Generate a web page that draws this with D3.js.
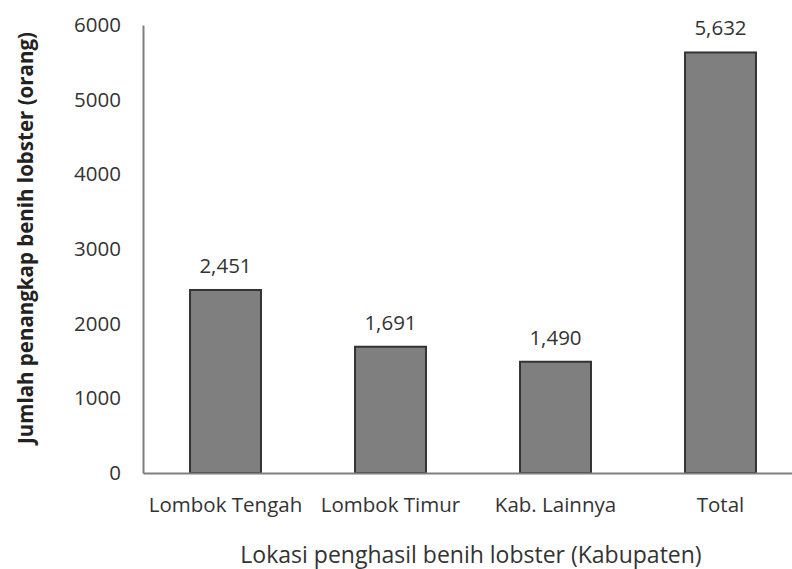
<!DOCTYPE html>
<html lang="id">
<head>
<meta charset="UTF-8">
<title>Penangkap benih lobster</title>
<script src="https://d3js.org/d3.v7.min.js"></script>
<style>
    body { margin: 0; background: #fff; }
    svg { font-family: "Open Sans", sans-serif; }
</style>
</head>
<body>
<div id="chart"></div>
<script>
// data
var categories = ["Lombok Tengah", "Lombok Timur", "Kab. Lainnya", "Total"];
var values = [2451, 1691, 1490, 5632];
var yTicks = [0, 1000, 2000, 3000, 4000, 5000, 6000];

var width = 792, height = 569;

var svg = d3.select("#chart").append("svg")
    .attr("width", width)
    .attr("height", height);

var x = d3.scaleBand()
    .domain(categories)
    .range([143, 803])
    .paddingInner(0.57)
    .paddingOuter(0.285);

var y = d3.scaleLinear()
    .domain([0, 6000])
    .range([473, 25]);

// y axis: line only, labels to the left
var yAxis = svg.append("g")
    .attr("transform", "translate(143,0)")
    .call(d3.axisLeft(y).tickValues(yTicks).tickSize(0).tickPadding(22).tickFormat(d3.format("d")));
yAxis.select(".domain").attr("stroke", "#7f7f7f").attr("stroke-width", 2);
yAxis.selectAll("text").attr("font-size", 20.5).attr("font-family", "Open Sans").attr("fill", "#333");

// bars
svg.selectAll(".bar")
    .data(values)
    .enter().append("rect")
    .attr("class", "bar")
    .attr("x", function(d, i) { return x(categories[i]); })
    .attr("y", function(d) { return y(d); })
    .attr("width", x.bandwidth())
    .attr("height", function(d) { return y(0) - y(d); })
    .attr("fill", "#7f7f7f")
    .attr("stroke", "#333")
    .attr("stroke-width", 2);

// x axis line over bar bottoms
var xAxis = svg.append("g")
    .attr("transform", "translate(0," + y(0) + ")")
    .call(d3.axisBottom(x).tickSize(0).tickPadding(24));
xAxis.select(".domain").attr("stroke", "#7f7f7f").attr("stroke-width", 2);
xAxis.selectAll("text").attr("font-size", 20.5).attr("font-family", "Open Sans").attr("fill", "#333");

// value labels
svg.selectAll(".val")
    .data(values)
    .enter().append("text")
    .attr("class", "val")
    .attr("x", function(d, i) { return x(categories[i]) + x.bandwidth() / 2; })
    .attr("y", function(d) { return y(d) - 17; })
    .attr("text-anchor", "middle")
    .attr("font-size", 20.5)
    .attr("fill", "#333")
    .text(d3.format(","));

// axis titles
svg.append("text")
    .attr("x", 471)
    .attr("y", 563)
    .attr("text-anchor", "middle")
    .attr("font-size", 23)
    .attr("fill", "#333")
    .text("Lokasi penghasil benih lobster (Kabupaten)");

svg.append("text")
    .attr("transform", "translate(33,238) rotate(-90)")
    .attr("text-anchor", "middle")
    .attr("font-size", 20.5)
    .attr("font-weight", "bold")
    .attr("fill", "#222")
    .text("Jumlah penangkap benih lobster (orang)");
</script>
</body>
</html>
